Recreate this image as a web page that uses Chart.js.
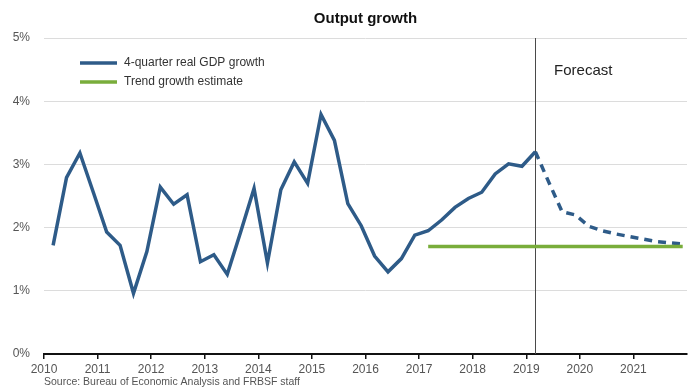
<!DOCTYPE html>
<html>
<head>
<meta charset="utf-8">
<script src="https://cdn.jsdelivr.net/npm/chart.js@4/dist/chart.umd.min.js"></script>
<style>
  html, body { margin: 0; padding: 0; background: #fff; }
  #wrap { width: 698px; height: 392px; }
</style>
</head>
<body>
<div id="wrap"><canvas id="myChart" width="698" height="392"></canvas></div>
<script>
// quarterly data, first quarter is 2010Q1
var firstYear = 2010;
var qPos = 0.17; // where a quarter sits inside its year slot

// 4-quarter real GDP growth, 2010Q1 .. 2019Q1
var gdpGrowth = [
	1.72, 2.79, 3.18, 2.56,
	1.93, 1.72, 0.96, 1.62,
	2.64, 2.37, 2.52, 1.46,
	1.57, 1.26, 1.93, 2.62,
	1.44, 2.60, 3.04, 2.70,
	3.79, 3.38, 2.38, 2.03,
	1.55, 1.30, 1.51, 1.88,
	1.95, 2.12, 2.32, 2.46,
	2.56, 2.85, 3.01, 2.97,
	3.20
];

// forecast, 2019Q1 .. 2021Q4
var forecastStart = 36; // quarter index of 2019Q1
var gdpForecast = [3.20, 2.72, 2.25, 2.20, 2.02, 1.95, 1.90, 1.86, 1.82, 1.78, 1.76, 1.74];

// trend growth estimate, 2017Q1 .. 2021Q4
var trendStart = 28;
var trendEnd = 47;
var trendValue = 1.7;

var yearTicks = [2010, 2011, 2012, 2013, 2014, 2015, 2016, 2017, 2018, 2019, 2020, 2021];
var yTicks = [0, 1, 2, 3, 4, 5];

var seriesNames = ["4-quarter real GDP growth", "Trend growth estimate"];
var titleText = "Output growth";
var forecastText = "Forecast";
var sourceText = "Source: Bureau of Economic Analysis and FRBSF staff";

var BLUE = "#2e5b88";
var GREEN = "#79ad3b";
var FONT = "'Liberation Sans', Arial, sans-serif";

function qx(i){
	return firstYear + (i + qPos * 4) / 4;
}

function toPoints(values, start){
	var pts = [];
	for (var i = 0; i < values.length; i++) {
		pts.push({x: qx(start + i), y: values[i]});
	}
	return pts;
}

var trendPts = [];
for (var i = trendStart; i <= trendEnd; i++) {
	trendPts.push({x: qx(i), y: trendValue});
}

var extras = {
	id: "extras",
	beforeDatasetsDraw: function(chart){
		var c = chart.ctx, a = chart.chartArea;
		var x = Math.round(chart.scales.x.getPixelForValue(qx(forecastStart))) + 0.5;
		c.save();
		c.strokeStyle = "#4a4a4a";
		c.lineWidth = 1;
		c.beginPath();
		c.moveTo(x, a.top);
		c.lineTo(x, a.bottom);
		c.stroke();
		c.restore();
	},
	afterDraw: function(chart){
		var c = chart.ctx, a = chart.chartArea;
		var xs = chart.scales.x, ys = chart.scales.y;
		c.save();
		// forecast label
		c.fillStyle = "#222";
		c.font = "15px " + FONT;
		c.textBaseline = "middle";
		c.textAlign = "left";
		c.fillText(forecastText, xs.getPixelForValue(2019.52), ys.getPixelForValue(4.48));

		// legend
		var colors = [BLUE, GREEN];
		c.font = "12px " + FONT;
		for (var i = 0; i < seriesNames.length; i++) {
			var ly = a.top + 25 + i * 19;
			c.strokeStyle = colors[i];
			c.lineWidth = 3.5;
			c.beginPath();
			c.moveTo(a.left + 36, ly);
			c.lineTo(a.left + 73, ly);
			c.stroke();
			c.fillStyle = "#333";
			c.fillText(seriesNames[i], a.left + 80, ly);
		}

		// source
		c.fillStyle = "#555";
		c.font = "10.5px " + FONT;
		c.fillText(sourceText, a.left, 382);
		c.restore();
	}
};

var ctx = document.getElementById("myChart").getContext("2d");
var myChart = new Chart(ctx, {
	type: "line",
	data: {
		datasets: [
			{
				label: seriesNames[1],
				data: trendPts,
				borderColor: GREEN,
				borderWidth: 3.5,
				pointRadius: 0,
				tension: 0
			},
			{
				label: seriesNames[0] + " forecast",
				data: toPoints(gdpForecast, forecastStart),
				borderColor: BLUE,
				borderWidth: 3.5,
				borderDash: [8, 6],
				borderCapStyle: "butt",
				pointRadius: 0,
				tension: 0
			},
			{
				label: seriesNames[0],
				data: toPoints(gdpGrowth, 0),
				borderColor: BLUE,
				borderWidth: 3.5,
				borderJoinStyle: "miter",
				pointRadius: 0,
				tension: 0
			}
		]
	},
	options: {
		responsive: false,
		animation: false,
		layout: {padding: {left: 0, right: 11, top: 0, bottom: 0}},
		plugins: {
			legend: {display: false},
			tooltip: {enabled: false},
			title: {
				display: true,
				text: titleText,
				fullSize: false,
				color: "#111",
				font: {family: FONT, size: 15, weight: "bold", lineHeight: 1.2},
				padding: {top: 10, bottom: 10}
			}
		},
		scales: {
			x: {
				type: "linear",
				min: firstYear,
				max: 2022,
				afterFit: function(s){ s.height = 38; },
				afterBuildTicks: function(s){
					s.ticks = yearTicks.concat([2022]).map(function(v){ return {value: v}; });
				},
				ticks: {
					autoSkip: false,
					maxRotation: 0,
					padding: 3,
					color: "#555",
					font: {family: FONT, size: 12},
					callback: function(v){ return v === 2022 ? "" : String(v); }
				},
				grid: {
					drawOnChartArea: false,
					drawTicks: true,
					tickLength: 5,
					lineWidth: 1.5,
					color: function(c){ return c.tick && c.tick.value === 2022 ? "rgba(0,0,0,0)" : "#111"; }
				},
				border: {display: true, color: "#111", width: 2}
			},
			y: {
				min: 0,
				max: 5,
				afterFit: function(s){ s.width = 44; },
				afterBuildTicks: function(s){
					s.ticks = yTicks.map(function(v){ return {value: v}; });
				},
				ticks: {
					padding: 14,
					color: "#555",
					font: {family: FONT, size: 12},
					callback: function(v){ return v + "%"; }
				},
				grid: {color: "#dcdcdc", lineWidth: 1, drawTicks: false},
				border: {display: false}
			}
		}
	},
	plugins: [extras]
});
</script>
</body>
</html>
